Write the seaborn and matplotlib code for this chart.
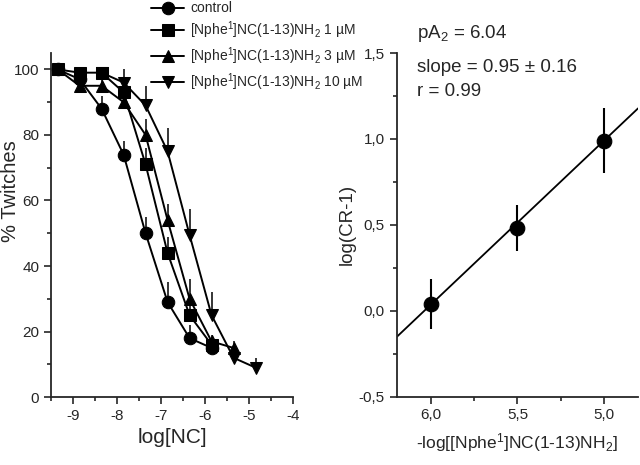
import numpy as np
import pandas as pd
import seaborn as sns
import matplotlib.pyplot as plt
from matplotlib.ticker import MultipleLocator, FuncFormatter

# left panel: concentration-response curves
log_nc = [-9.35, -8.85, -8.35, -7.85, -7.35, -6.85, -6.35, -5.85, -5.35, -4.85]

ctrl_x = log_nc[:8]
ctrl_y = [100, 97, 88, 74, 50, 29, 18, 15]
ctrl_err = [0, 0, 4, 4, 5, 6, 4, 2]

n1_x = log_nc[:8]
n1_y = [100, 99, 99, 93, 71, 44, 25, 16]
n1_err = [0, 0, 0, 3, 5, 5, 5, 2]

n3_x = log_nc[:9]
n3_y = [100, 95, 95, 90, 80, 54, 30, 17, 15]
n3_err = [0, 0, 3, 3, 5, 5, 6, 2, 2]

n10_x = log_nc[2:]
n10_y = [99, 96, 89, 75, 49.5, 25, 12, 9]
n10_err = [0, 4, 6, 7, 8, 7, 3, 3]

labels = ['control',
          r'[Nphe$^{1}$]NC(1-13)NH$_2$ 1 µM',
          r'[Nphe$^{1}$]NC(1-13)NH$_2$ 3 µM',
          r'[Nphe$^{1}$]NC(1-13)NH$_2$ 10 µM']
markers = ['o', 's', '^', 'v']

# right panel: Schild plot
antag = [6.0, 5.5, 5.0]
log_cr = [0.04, 0.48, 0.99]
log_cr_err = [0.145, 0.135, 0.19]
pA2 = 6.04
slope = 0.95

sns.set_style('ticks')
plt.rcParams['font.family'] = ['Liberation Sans', 'DejaVu Sans']
plt.rcParams['mathtext.fontset'] = 'custom'
plt.rcParams['mathtext.rm'] = 'Liberation Sans'
plt.rcParams['mathtext.it'] = 'Liberation Sans'
plt.rcParams['axes.unicode_minus'] = False

dpi = 100
fig = plt.figure(figsize=(640 / dpi, 465 / dpi), dpi=dpi)
ax1 = fig.add_axes([0.0797, 0.146, 0.378, 0.74])
ax2 = fig.add_axes([0.620, 0.147, 0.377, 0.739])

series = [(ctrl_x, ctrl_y, ctrl_err), (n1_x, n1_y, n1_err),
          (n3_x, n3_y, n3_err), (n10_x, n10_y, n10_err)]
for (xs, ys, es), lab, m in zip(series, labels, markers):
    df = pd.DataFrame({'x': xs, 'y': ys})
    sns.lineplot(data=df, x='x', y='y', ax=ax1, color='black', marker=m,
                 markersize=9, markeredgecolor='black', linewidth=1.4,
                 label=lab, zorder=3)
    ax1.errorbar(xs, ys, yerr=[np.zeros(len(es)), es], fmt='none',
                 ecolor='black', elinewidth=1.1, capsize=0, zorder=2)

ax1.set_xlim(-9.5, -4)
ax1.set_ylim(0, 105)
ax1.xaxis.set_major_locator(MultipleLocator(1))
ax1.xaxis.set_minor_locator(MultipleLocator(0.5))
ax1.yaxis.set_major_locator(MultipleLocator(20))
ax1.yaxis.set_minor_locator(MultipleLocator(10))
ax1.set_xlabel('log[NC]', fontsize=15)
ax1.set_ylabel('% Twitches', fontsize=14.5)
ax1.yaxis.set_label_coords(-0.13, 0.6)
ax1.tick_params(labelsize=11, width=1.2, length=5)
ax1.tick_params(which='minor', width=1.2, length=3)
for s in ['left', 'bottom']:
    ax1.spines[s].set_linewidth(1.3)
sns.despine(ax=ax1)

leg = ax1.legend(loc='upper left', bbox_to_anchor=(0.385, 1.17),
                 frameon=False, fontsize=10, handlelength=2.4,
                 handletextpad=0.4, labelspacing=0.3, borderpad=0)

# Schild regression line across the axis range
xlim2 = (6.2, 4.8)
fit_x = np.array(xlim2)
fit_y = slope * (pA2 - fit_x)
sns.lineplot(x=fit_x, y=fit_y, ax=ax2, color='black', linewidth=1.3)
ax2.errorbar(antag, log_cr, yerr=log_cr_err, fmt='none', ecolor='black',
             elinewidth=1.5, capsize=0, zorder=2)
sns.scatterplot(x=antag, y=log_cr, ax=ax2, color='black', s=110,
                edgecolor='black', zorder=3)

ax2.set_xlim(*xlim2)
ax2.set_ylim(-0.5, 1.5)
ax2.xaxis.set_major_locator(MultipleLocator(0.5))
ax2.xaxis.set_minor_locator(MultipleLocator(0.25))
ax2.yaxis.set_major_locator(MultipleLocator(0.5))
ax2.yaxis.set_minor_locator(MultipleLocator(0.25))
comma = FuncFormatter(lambda v, p: f'{v:.1f}'.replace('.', ','))
ax2.xaxis.set_major_formatter(comma)
ax2.yaxis.set_major_formatter(comma)
ax2.set_xlabel(r'-log[[Nphe$^{1}$]NC(1-13)NH$_2$]', fontsize=12.5, labelpad=6)
ax2.set_ylabel('log(CR-1)', fontsize=13.5, labelpad=2)
ax2.tick_params(labelsize=11, width=1.2, length=5)
ax2.tick_params(which='minor', width=1.2, length=3)
for s in ['left', 'bottom']:
    ax2.spines[s].set_linewidth(1.3)
sns.despine(ax=ax2)

ax2.text(0.084, 1.058, r'pA$_2$ = ' + f'{pA2:.2f}', transform=ax2.transAxes,
         fontsize=13.5, va='center')
ax2.text(0.084, 0.959, 'slope = 0.95 ± 0.16', transform=ax2.transAxes,
         fontsize=13.5, va='center')
ax2.text(0.084, 0.887, 'r = 0.99', transform=ax2.transAxes,
         fontsize=13.5, va='center')

fig.savefig('out.png', dpi=dpi)
